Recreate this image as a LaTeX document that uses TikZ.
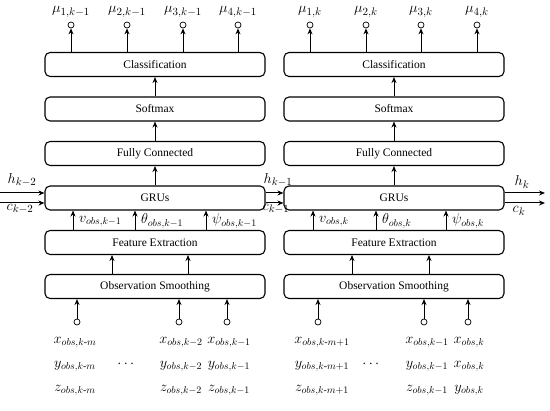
\documentclass[tikz,border=0pt]{standalone}
\usepackage{amsmath}
\usepackage{fontspec}
\setmainfont{Liberation Serif}
\usetikzlibrary{arrows.meta}
\begin{document}
\begin{tikzpicture}[x=1pt,y=-1pt,
 box/.style={draw,rounded corners=5pt,line width=1.1pt,minimum width=220pt,minimum height=24pt,inner sep=0,font=\fontsize{11.5}{13}\selectfont},
 arr/.style={-{Stealth[length=6pt,width=5pt]},line width=1pt},
 port/.style={circle,draw,line width=0.7pt,minimum size=6pt,inner sep=0},
 lab/.style={font=\fontsize{15}{17}\selectfont,inner sep=0},
 inlab/.style={font=\fontsize{14}{16}\selectfont,inner sep=0}
]
\useasboundingbox (0,0) rectangle (550,411);
% ---------- left column ----------
\node[box] (cl1) at (155,64.5) {Classification};
\node[box] (sm1) at (155,109) {Softmax};
\node[box] (fc1) at (155,153.5) {Fully Connected};
\node[box] (gr1) at (155,198) {GRUs};
\node[box] (fe1) at (155,242.5) {Feature Extraction};
\node[box] (os1) at (155,286.5) {Observation Smoothing};
\draw[arr] (sm1.north) -- (cl1.south);
\draw[arr] (fc1.north) -- (sm1.south);
\draw[arr] (gr1.north) -- (fc1.south);
% outputs
\node[port] (m11) at (71,25) {};
\node[port] (m12) at (127,25) {};
\node[port] (m13) at (183,25) {};
\node[port] (m14) at (238,25) {};
\node[lab] (t11) at (71,12) {$\mu_{1,k-1}$};
\node[lab] (t12) at (127,12) {$\mu_{2,k-1}$};
\node[lab] (t13) at (183,12) {$\mu_{3,k-1}$};
\node[lab] (t14) at (238,12) {$\mu_{4,k-1}$};
\foreach \m in {m11,m12,m13,m14} \draw[arr] (cl1.north -| \m) -- (\m.south);
% GRU inputs
\coordinate (ga1) at (73,0);
\coordinate (gb1) at (135,0);
\coordinate (gc1) at (206,0);
\foreach \g in {ga1,gb1,gc1} \draw[arr] (fe1.north -| \g) -- (gr1.south -| \g);
\node[inlab,anchor=west] (v1) at (79,221) {$v_{obs,k-1}$};
\node[inlab,anchor=west] (th1) at (141,221) {$\theta_{obs,k-1}$};
\node[inlab,anchor=west] (ps1) at (212,221) {$\psi_{obs,k-1}$};
% FE inputs
\coordinate (fa1) at (112,0);
\coordinate (fb1) at (188,0);
\foreach \f in {fa1,fb1} \draw[arr] (os1.north -| \f) -- (fe1.south -| \f);
% observation inputs
\node[port] (ia1) at (77,322) {};
\node[port] (ib1) at (179,322) {};
\node[port] (ic1) at (227,322) {};
\foreach \i in {ia1,ib1,ic1} \draw[arr] (\i.north) -- (os1.south -| \i);
\node[inlab] (xa1) at (75,342) {$x_{obs,k\text{-}m}$};
\node[inlab] (ya1) at (75,366) {$y_{obs,k\text{-}m}$};
\node[inlab] (za1) at (75,390) {$z_{obs,k\text{-}m}$};
\node[inlab] (d1) at (127,364) {$\cdots$};
\node[inlab] (xb1) at (181,342) {$x_{obs,k-2}$};
\node[inlab] (yb1) at (181,366) {$y_{obs,k-2}$};
\node[inlab] (zb1) at (181,390) {$z_{obs,k-2}$};
\node[inlab] (xc1) at (229,342) {$x_{obs,k-1}$};
\node[inlab] (yc1) at (229,366) {$y_{obs,k-1}$};
\node[inlab] (zc1) at (229,390) {$z_{obs,k-1}$};
% ---------- right column ----------
\node[box] (cl2) at (394,64.5) {Classification};
\node[box] (sm2) at (394,109) {Softmax};
\node[box] (fc2) at (394,153.5) {Fully Connected};
\node[box] (gr2) at (394,198) {GRUs};
\node[box] (fe2) at (394,242.5) {Feature Extraction};
\node[box] (os2) at (394,286.5) {Observation Smoothing};
\draw[arr] (sm2.north) -- (cl2.south);
\draw[arr] (fc2.north) -- (sm2.south);
\draw[arr] (gr2.north) -- (fc2.south);
\node[port] (m21) at (310,25) {};
\node[port] (m22) at (366,25) {};
\node[port] (m23) at (421,25) {};
\node[port] (m24) at (477,25) {};
\node[lab] (t21) at (310,12) {$\mu_{1,k}$};
\node[lab] (t22) at (366,12) {$\mu_{2,k}$};
\node[lab] (t23) at (421,12) {$\mu_{3,k}$};
\node[lab] (t24) at (477,12) {$\mu_{4,k}$};
\foreach \m in {m21,m22,m23,m24} \draw[arr] (cl2.north -| \m) -- (\m.south);
\coordinate (ga2) at (313,0);
\coordinate (gb2) at (376,0);
\coordinate (gc2) at (446,0);
\foreach \g in {ga2,gb2,gc2} \draw[arr] (fe2.north -| \g) -- (gr2.south -| \g);
\node[inlab,anchor=west] (v2) at (319,221) {$v_{obs,k}$};
\node[inlab,anchor=west] (th2) at (382,221) {$\theta_{obs,k}$};
\node[inlab,anchor=west] (ps2) at (452,221) {$\psi_{obs,k}$};
\coordinate (fa2) at (352,0);
\coordinate (fb2) at (429,0);
\foreach \f in {fa2,fb2} \draw[arr] (os2.north -| \f) -- (fe2.south -| \f);
\node[port] (ia2) at (318,322) {};
\node[port] (ib2) at (424,322) {};
\node[port] (ic2) at (468,322) {};
\foreach \i in {ia2,ib2,ic2} \draw[arr] (\i.north) -- (os2.south -| \i);
\node[inlab] (xa2) at (322,342) {$x_{obs,k\text{-}m+1}$};
\node[inlab] (ya2) at (322,366) {$y_{obs,k\text{-}m+1}$};
\node[inlab] (za2) at (322,390) {$z_{obs,k\text{-}m+1}$};
\node[inlab] (d2) at (372,364) {$\cdots$};
\node[inlab] (xb2) at (427,342) {$x_{obs,k-1}$};
\node[inlab] (yb2) at (427,366) {$y_{obs,k-1}$};
\node[inlab] (zb2) at (427,390) {$z_{obs,k-1}$};
\node[inlab] (xc2) at (469,342) {$x_{obs,k}$};
\node[inlab] (yc2) at (469,366) {$x_{obs,k}$};
\node[inlab] (zc2) at (469,390) {$y_{obs,k}$};
% ---------- hidden / cell states ----------
\coordinate (hin) at (0,193);
\coordinate (cin) at (0,203);
\coordinate (hout) at (545,193);
\coordinate (cout) at (545,203);
\draw[arr] (hin) -- (gr1.west |- hin);
\draw[arr] (cin) -- (gr1.west |- cin);
\draw[arr] (gr1.east |- hin) -- (gr2.west |- hin);
\draw[arr] (gr1.east |- cin) -- (gr2.west |- cin);
\draw[arr] (gr2.east |- hout) -- (hout);
\draw[arr] (gr2.east |- cout) -- (cout);
\node[lab] (h0) at (22,180) {$h_{k-2}$};
\node[lab] (c0) at (20,209) {$c_{k-2}$};
\node[lab] (h1) at (278,180) {$h_{k-1}$};
\node[lab] (c1) at (276,209) {$c_{k-1}$};
\node[lab] (h2) at (522,182) {$h_{k}$};
\node[lab] (c2) at (519,211) {$c_{k}$};
\end{tikzpicture}
\end{document}
